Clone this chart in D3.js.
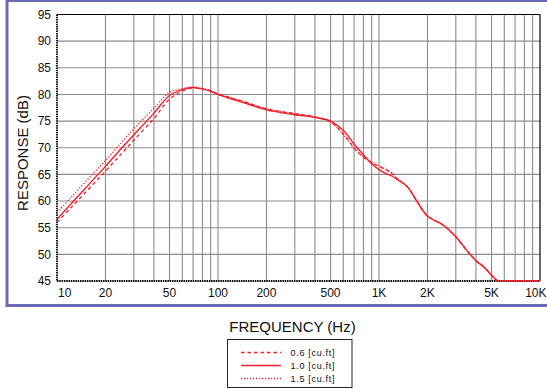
<!DOCTYPE html>
<html><head><meta charset="utf-8">
<script src="https://cdn.jsdelivr.net/npm/d3@7"></script>
<style>
html,body{margin:0;padding:0;background:#fff;}
svg{display:block;font-family:"Liberation Sans",Arial,Helvetica,sans-serif;}
</style></head>
<body>
<svg id="chart" width="547" height="389"></svg>
<script>
// ---- data ----
const freqs = [10,12,15,20,25,30,40,50,60,70,80,90,100,120,150,200,300,400,500,600,700,800,900,1000,1100,1200,1300,1500,1700,2000,2500,3000,3500,4000,4500,5000,5500,6000,7000,8000,10000];
const resp06 = [56.0,58.5,61.6,65.6,68.8,71.4,75.5,79.1,80.6,81.2,81.1,80.7,80.1,79.4,78.5,77.3,76.4,75.8,74.8,72.6,70.0,68.2,67.2,66.5,65.9,65.2,64.2,62.7,60.2,57.2,55.5,53.3,50.8,48.8,47.6,46.1,45,45,45,45,45];
const resp10 = [56.6,59.2,62.4,66.5,69.8,72.4,76.5,79.8,80.9,81.3,81.0,80.6,80.0,79.2,78.3,77.1,76.2,75.7,75.0,73.3,70.7,68.7,67.0,65.9,65.2,64.7,64.0,62.7,60.2,57.2,55.5,53.3,50.8,48.8,47.6,46.1,45,45,45,45,45];
const resp15 = [57.9,60.4,63.6,67.6,70.9,73.6,77.4,80.4,81.1,81.4,81.1,80.7,80.1,79.4,78.5,77.3,76.4,75.8,74.9,72.5,69.9,68.3,67.3,66.6,66.0,65.3,64.2,62.7,60.2,57.2,55.5,53.3,50.8,48.8,47.6,46.1,45,45,45,45,45];
const seriesNames = ["0.6 [cu.ft]","1.0 [cu.ft]","1.5 [cu.ft]"];
const gridFreqs = [20,30,40,50,60,70,80,90,100,200,300,400,500,600,700,800,900,1000,2000,3000,4000,5000,6000,7000,8000,9000];
const xTickVals = [10,20,50,100,200,500,1000,2000,5000,10000];
const xTickLabels = ["10","20","50","100","200","500","1K","2K","5K","10K"];
const yTickVals = [45,50,55,60,65,70,75,80,85,90,95];

// ---- layout ----
const svg = d3.select("#chart");
const L = 57, R = 540, T = 14.5, B = 281;
const x = d3.scaleLog().domain([10,10000]).range([L,R]);
const y = d3.scaleLinear().domain([45,95]).range([B,T]);
const red = "#f51e2a";

// outer frame
svg.append("rect").attr("x",7).attr("y",0.5).attr("width",560).attr("height",305)
  .attr("fill","none").attr("stroke","#6b6bb5").attr("stroke-width",3);

// grid
const g = svg.append("g");
g.selectAll("line.v").data(gridFreqs).join("line")
  .attr("x1",d=>x(d)).attr("x2",d=>x(d)).attr("y1",T).attr("y2",B)
  .attr("stroke","#8c8c8c").attr("stroke-width",1.1);
g.selectAll("line.h").data(yTickVals.slice(1,-1)).join("line")
  .attr("x1",L).attr("x2",R).attr("y1",d=>y(d)).attr("y2",d=>y(d))
  .attr("stroke","#8c8c8c").attr("stroke-width",1.1);

// plot borders
g.append("line").attr("x1",L).attr("x2",R).attr("y1",T).attr("y2",T).attr("stroke","#000").attr("stroke-width",1.2);
g.append("line").attr("x1",R).attr("x2",R).attr("y1",T).attr("y2",B).attr("stroke","#000").attr("stroke-width",1.2);
g.append("line").attr("x1",L).attr("x2",R).attr("y1",B).attr("y2",B).attr("stroke","#000").attr("stroke-width",1.8).attr("stroke-dasharray","1.5,0.8");
g.append("line").attr("x1",L).attr("x2",L).attr("y1",T).attr("y2",B).attr("stroke","#000").attr("stroke-width",1.8).attr("stroke-dasharray","1.5,0.8");

// curves
svg.append("clipPath").attr("id","clip").append("rect").attr("x",L).attr("y",T-1).attr("width",R-L).attr("height",B-T+1.5);
const line = d3.line().x((d,i)=>x(freqs[i])).y(d=>y(d)).curve(d3.curveCatmullRom.alpha(0.5));
const curves = svg.append("g").attr("clip-path","url(#clip)");
const dashes = ["3.5,3","none","1.2,1.8"];
[resp06,resp10,resp15].forEach((s,i)=>{
  curves.append("path").attr("d",line(s)).attr("fill","none").attr("stroke",red)
    .attr("stroke-width",i===1?1.4:1.3).attr("stroke-dasharray",dashes[i]);
});

// y ticks
svg.append("g").selectAll("text").data(yTickVals).join("text")
  .attr("x",51).attr("y",d=>y(d)).attr("dy","0.36em").attr("text-anchor","end")
  .attr("font-size",12).attr("fill","#111").text(d=>d);
// x ticks
const nT = xTickVals.length;
svg.append("g").selectAll("text").data(xTickVals).join("text")
  .attr("x",(d,i)=> i===0 ? L+1 : (i===nT-1 ? 546.5 : x(d))).attr("y",297)
  .attr("text-anchor",(d,i)=> i===0 ? "start" : (i===nT-1 ? "end" : "middle"))
  .attr("font-size",12).attr("fill","#111").text((d,i)=>xTickLabels[i]);

// axis titles
svg.append("text").attr("transform","translate(28,153) rotate(-90)").attr("text-anchor","middle")
  .attr("font-size",15).attr("fill","#111").text("RESPONSE (dB)");
svg.append("text").attr("x",292.5).attr("y",332).attr("text-anchor","middle")
  .attr("font-size",15).attr("fill","#111").text("FREQUENCY (Hz)");

// legend
const lg = svg.append("g");
lg.append("rect").attr("x",227.5).attr("y",339.5).attr("width",124.5).attr("height",48)
  .attr("fill","#fff").attr("stroke","#222").attr("stroke-width",1);
const rowsY = [352.5,365.5,378.5];
seriesNames.forEach((n,i)=>{
  lg.append("line").attr("x1",241).attr("x2",281).attr("y1",rowsY[i]).attr("y2",rowsY[i])
    .attr("stroke",red).attr("stroke-width",i===1?1.4:1.3).attr("stroke-dasharray",dashes[i]);
  lg.append("text").attr("x",290.5).attr("y",rowsY[i]).attr("dy","0.35em")
    .attr("font-size",9).attr("letter-spacing","0.7px").attr("fill","#111").text(n);
});
</script>
</body></html>
